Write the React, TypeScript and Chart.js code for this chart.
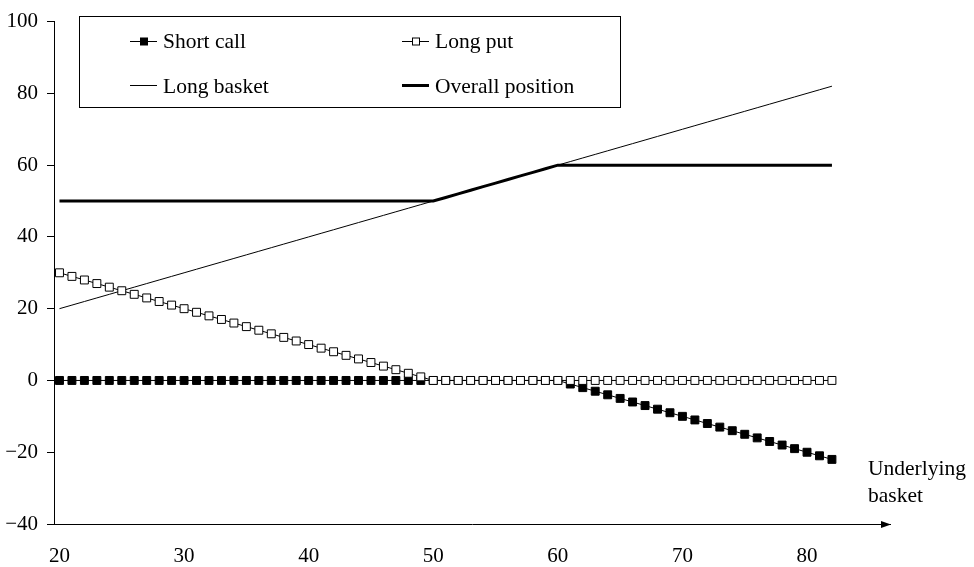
import React, { useEffect, useRef } from 'react';
import { Chart, registerables } from 'chart.js';

Chart.register(...registerables);

const underlying = [
  20, 21, 22, 23, 24, 25, 26, 27, 28, 29, 30, 31, 32, 33, 34, 35, 36, 37, 38, 39,
  40, 41, 42, 43, 44, 45, 46, 47, 48, 49, 50, 51, 52, 53, 54, 55, 56, 57, 58, 59,
  60, 61, 62, 63, 64, 65, 66, 67, 68, 69, 70, 71, 72, 73, 74, 75, 76, 77, 78, 79,
  80, 81, 82,
];
const shortCall = [
  0, 0, 0, 0, 0, 0, 0, 0, 0, 0, 0, 0, 0, 0, 0, 0, 0, 0, 0, 0,
  0, 0, 0, 0, 0, 0, 0, 0, 0, 0, 0, 0, 0, 0, 0, 0, 0, 0, 0, 0,
  0, -1, -2, -3, -4, -5, -6, -7, -8, -9, -10, -11, -12, -13, -14, -15, -16, -17, -18, -19,
  -20, -21, -22,
];
const longPut = [
  30, 29, 28, 27, 26, 25, 24, 23, 22, 21, 20, 19, 18, 17, 16, 15, 14, 13, 12, 11,
  10, 9, 8, 7, 6, 5, 4, 3, 2, 1, 0, 0, 0, 0, 0, 0, 0, 0, 0, 0,
  0, 0, 0, 0, 0, 0, 0, 0, 0, 0, 0, 0, 0, 0, 0, 0, 0, 0, 0, 0,
  0, 0, 0,
];
const longBasket = [
  20, 21, 22, 23, 24, 25, 26, 27, 28, 29, 30, 31, 32, 33, 34, 35, 36, 37, 38, 39,
  40, 41, 42, 43, 44, 45, 46, 47, 48, 49, 50, 51, 52, 53, 54, 55, 56, 57, 58, 59,
  60, 61, 62, 63, 64, 65, 66, 67, 68, 69, 70, 71, 72, 73, 74, 75, 76, 77, 78, 79,
  80, 81, 82,
];
const overallPosition = [
  50, 50, 50, 50, 50, 50, 50, 50, 50, 50, 50, 50, 50, 50, 50, 50, 50, 50, 50, 50,
  50, 50, 50, 50, 50, 50, 50, 50, 50, 50, 50, 51, 52, 53, 54, 55, 56, 57, 58, 59,
  60, 60, 60, 60, 60, 60, 60, 60, 60, 60, 60, 60, 60, 60, 60, 60, 60, 60, 60, 60,
  60, 60, 60,
];
const xTickValues = [20, 30, 40, 50, 60, 70, 80];
const seriesNames = ['Short call', 'Long put', 'Long basket', 'Overall position'];
const axisTitleLines = ['Underlying', 'basket'];

const FONT = '"Liberation Serif", "Times New Roman", serif';

const pairs = (ys: number[]) => underlying.map((x, i) => ({ x, y: ys[i] }));

const legendPlugin = {
  id: 'customLegend',
  afterDraw(chart: any) {
    const ctx = chart.ctx as CanvasRenderingContext2D;
    const ds = chart.data.datasets;
    ctx.save();
    ctx.fillStyle = '#fff';
    ctx.fillRect(79.5, 16.5, 541, 91);
    ctx.strokeStyle = '#000';
    ctx.lineWidth = 1;
    ctx.strokeRect(79.5, 16.5, 541, 91);
    const cols = [{ lx0: 130, lx1: 157, tx: 163 }, { lx0: 402, lx1: 429, tx: 435 }];
    const rows = [{ ly: 41.5, ty: 48 }, { ly: 85.5, ty: 93 }];
    ds.forEach((d: any, i: number) => {
      const c = cols[i % 2];
      const r = rows[Math.floor(i / 2)];
      ctx.strokeStyle = '#000';
      ctx.lineWidth = d.borderWidth;
      ctx.beginPath();
      ctx.moveTo(c.lx0, r.ly);
      ctx.lineTo(c.lx1, r.ly);
      ctx.stroke();
      if (d.pointRadius > 0) {
        const s = 8;
        const cx = (c.lx0 + c.lx1) / 2;
        ctx.fillStyle = d.pointBackgroundColor;
        ctx.fillRect(Math.round(cx - s / 2) + 0.5, Math.round(r.ly - s / 2), s - 1, s - 1);
        ctx.lineWidth = 1;
        ctx.strokeRect(Math.round(cx - s / 2) + 0.5, Math.round(r.ly - s / 2), s - 1, s - 1);
      }
      ctx.fillStyle = '#000';
      ctx.font = `21.5px ${FONT}`;
      ctx.textAlign = 'left';
      ctx.textBaseline = 'alphabetic';
      ctx.fillText(d.label, c.tx, r.ty);
    });
    const area = chart.chartArea;
    const y = Math.round(area.bottom) + 0.5;
    const xr = area.right;
    ctx.fillStyle = '#000';
    ctx.beginPath();
    ctx.moveTo(xr + 1, y);
    ctx.lineTo(xr - 9, y - 3.5);
    ctx.lineTo(xr - 9, y + 3.5);
    ctx.closePath();
    ctx.fill();
    ctx.font = `21.5px ${FONT}`;
    ctx.textAlign = 'left';
    ctx.textBaseline = 'alphabetic';
    ctx.fillText(axisTitleLines[0], 868, 475);
    ctx.fillText(axisTitleLines[1], 868, 502);
    ctx.restore();
  },
};

export default function App() {
  const ref = useRef<HTMLCanvasElement>(null);
  useEffect(() => {
    if (!ref.current) return;
    const chart = new Chart(ref.current, {
      type: 'line',
      data: {
        datasets: [
          {
            label: seriesNames[0],
            data: pairs(shortCall),
            borderColor: '#000',
            borderWidth: 1,
            pointStyle: 'rect',
            pointRadius: 5.6,
            pointBackgroundColor: '#000',
            pointBorderColor: '#000',
            pointBorderWidth: 1,
            order: 2,
          },
          {
            label: seriesNames[1],
            data: pairs(longPut),
            borderColor: '#000',
            borderWidth: 1,
            pointStyle: 'rect',
            pointRadius: 5.6,
            pointBackgroundColor: '#fff',
            pointBorderColor: '#000',
            pointBorderWidth: 1,
            order: 0,
          },
          {
            label: seriesNames[2],
            data: pairs(longBasket),
            borderColor: '#000',
            borderWidth: 1,
            pointRadius: 0,
            order: 3,
          },
          {
            label: seriesNames[3],
            data: pairs(overallPosition),
            borderColor: '#000',
            borderWidth: 3,
            pointRadius: 0,
            order: 1,
          },
        ],
      },
      options: {
        animation: false,
        responsive: true,
        maintainAspectRatio: false,
        devicePixelRatio: 1,
        layout: { padding: { top: 16, right: 84, left: 0, bottom: 0 } },
        plugins: { legend: { display: false }, tooltip: { enabled: false } },
        elements: { line: { tension: 0, borderCapStyle: 'butt' } },
        scales: {
          x: {
            type: 'linear',
            min: 19.56,
            max: 86.66,
            afterBuildTicks: (s: any) => {
              s.ticks = xTickValues.map((v) => ({ value: v }));
            },
            afterFit: (s: any) => {
              s.height = 43;
            },
            grid: { display: false, drawTicks: false },
            border: { display: true, color: '#000', width: 1 },
            ticks: {
              color: '#000',
              font: { family: FONT, size: 21 },
              padding: 20,
              maxRotation: 0,
              autoSkip: false,
            },
          },
          y: {
            type: 'linear',
            min: -40,
            max: 100,
            afterFit: (s: any) => {
              s.width = 54;
            },
            grid: {
              display: true,
              drawOnChartArea: false,
              drawTicks: true,
              tickLength: 7,
              color: '#000',
            },
            border: { display: true, color: '#000', width: 1 },
            ticks: {
              stepSize: 20,
              color: '#000',
              font: { family: FONT, size: 21 },
              padding: 9,
              callback: (v: any) => (v < 0 ? '\u2212' + Math.abs(v) : String(v)),
            },
          },
        },
      },
      plugins: [legendPlugin],
    });
    return () => chart.destroy();
  }, []);
  return (
    <div style={{ position: 'fixed', left: 0, top: 0, width: 974, height: 567, background: '#fff' }}>
      <canvas ref={ref} />
    </div>
  );
}
